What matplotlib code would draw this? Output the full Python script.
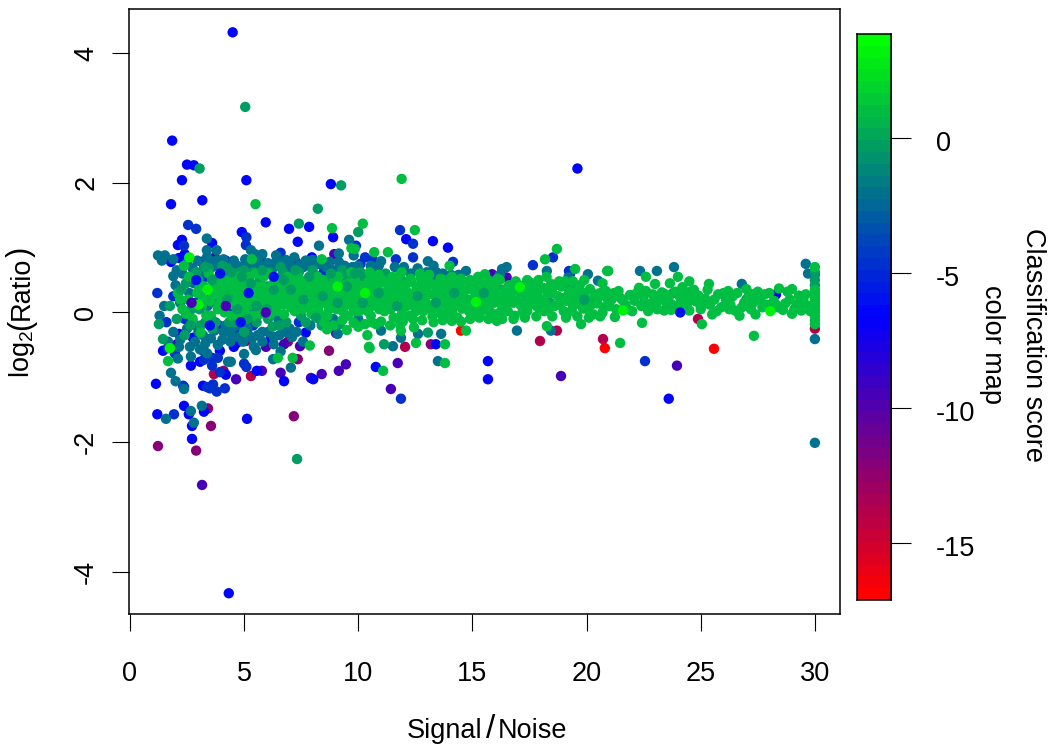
import matplotlib
matplotlib.use("Agg")
import matplotlib.pyplot as plt
import numpy as np
from matplotlib.colors import LinearSegmentedColormap
from matplotlib.transforms import ScaledTranslation

plt.rcParams['font.family'] = ['Liberation Sans', 'DejaVu Sans']
plt.rcParams['mathtext.fontset'] = 'custom'
plt.rcParams['mathtext.rm'] = 'Liberation Sans'
plt.rcParams['mathtext.default'] = 'regular'

x_ticks = [0, 5, 10, 15, 20, 25, 30]
y_ticks = [-4, -2, 0, 2, 4]
cbar_ticks = [0, -5, -10, -15]
score_min, score_max = -17.1, 3.87

# (signal/noise, log2 ratio), grouped by colour-bar score
red = [(25.58, -.56), (20.8, -.55), (14.5, -.28)]
crimson = [(17.96, -.44), (18.7, -.28), (24.88, -.1), (30.0, -.25), (12.05, -.53), (20.72, -.41), (3.68, -.95), (5.3, -.98), (11.2, .05)]
magenta = [(3.42, -1.48), (3.55, -1.75), (1.23, -2.06), (2.9, -2.13), (8.72, -.59), (7.35, -.72), (5.08, -.44), (6.92, -.45), (13.18, -.49), (7.18, -1.6), (4.1, -.9)]
purple = [(3.16, -2.66), (4.65, -1.03), (8.4, -.95), (9.15, -.9), (9.46, -.8), (18.88, -.98), (15.86, .59), (8.95, .9), (2.06, -.49), (11.43, -1.18), (11.73, -.78), (23.96, -.82), (5.96, -.53), (6.75, -.49), (7.45, -.52), (9.03, -.32), (3.72, .85), (16.5, .54), (4.5, -.1), (5.78, -.9), (6.6, -.93), (7.93, -1.01)]
blue = [(4.5, 4.32), (1.85, 2.65), (2.5, 2.28), (2.8, 2.27), (2.28, 2.04), (5.1, 2.04), (8.8, 1.98), (19.6, 2.22), (1.8, 1.67), (3.17, 1.73),
        (5.95, 1.39), (6.97, 1.29), (7.85, 1.32), (8.9, 1.16), (7.35, 1.09), (2.28, 1.12), (2.1, 1.04), (3.6, 1.07), (2.15, .84), (2.4, .9), (3.15, .78), (1.8, .78),
        (6.97, .67), (7.97, .85), (13.27, 1.1), (13.93, 1.0), (12.1, 1.13), (28.3, .28), (4.33, -4.33), (2.72, -1.95), (2.72, -1.75), (5.13, -1.64), (1.2, -1.57),
        (2.37, -1.44), (1.14, -1.1), (15.68, -.75), (15.68, -1.03), (23.6, -1.33), (10.77, -.84), (7.05, .2), (6.1, .15), (3.4, .3), (4.9, 1.24), (2.15, -.33),
        (1.45, -.59), (2.67, -.82), (3.07, -.76), (4.2, -.96), (5.56, -.9), (6.75, -1.06), (8.03, -1.03), (4.55, -.53), (4.68, -.47), (7.7, -.31), (6.17, -.4), (4.3, .05),
        (2.76, -.39), (3.94, -.59), (13.4, -.49), (3.2, -1.13), (2.58, -1.57), (3.24, -1.53), (2.37, -1.15)]
navy = [(2.55, 1.35), (2.9, 1.29), (5.1, 1.16), (5.08, 1.04), (2.37, 1.03), (4.2, .8), (5.74, .85), (6.6, .92), (7.27, .78), (8.5, .64), (9.9, 1.03), (10.3, .85), (10.1, .75), (11.83, 1.27), (12.4, 1.06), (10.63, .81), (11.65, .82), (12.4, .85), (14.15, .78), (17.65, .73), (18.53, .85), (19.23, .64), (19.27, .59),
        (1.66, -.55), (1.97, -.63), (3.24, -.6), (3.24, -.73), (3.6, -.7), (3.6, -.82), (3.85, -.7), (5, -.79), (5.1, -.84), (2.33, -1.13), (3.94, -.92), (3.38, -1.15), (3.64, -1.11), (3.8, -1.22), (4.16, -1.17), (3.5, -1.17), (1.93, -1.57), (22.56, -.75), (11.87, -1.33), (1.2, .3), (1.9, .25), (2.4, -.1), (2.9, .15), (3.3, .55), (3.9, -.2), (4.6, -.3), (5.4, -.2), (6.5, .5), (7.4, -.15), (1.6, -.15), (8.3, -.1), (9.6, .5)]
teal = [(3.37, 1.14), (3.8, .96), (1.23, .88), (1.53, .88), (1.4, .8), (1.9, .82), (3.37, .96), (3.37, .85), (5.3, .96), (5.48, .9), (6.4, .88), (6.4, .78), (6.83, .81), (8.28, 1.03), (8.0, .81), (9.15, .78), (9.15, .91), (9.6, 1.12), (9.8, .88),
        (11.0, .79), (13.05, .79), (13.3, .72), (13.43, .62), (14.72, .64), (14.06, .58), (16.5, .7), (16.3, .67), (16.2, .58), (18.26, .64), (20.06, .59), (19.2, .54), (20.5, .49), (22.34, .64), (23.08, .64), (23.83, .7), (26.8, .44), (29.6, .75), (29.7, .6), (30.0, .58), (30.0, -2.01),
        (1.67, -.45), (2.15, -.53), (2.1, -.71), (2.63, -.53), (2.67, -.68), (3.07, -.57), (3.38, -.63), (4.3, -.76), (4.42, -.76), (5.0, -.64), (1.8, -.93), (2.0, -1.06), (2.37, -1.18), (1.58, -1.64), (2.67, -1.52), (2.8, -1.7), (3.15, -1.44), (7.05, -.85), (6.27, -.72), (5.52, -.58), (7.58, -.45), (6.6, -.6), (6.3, -.49), (5.43, -.53), (9.1, -.33), (16.95, -.28), (18.44, -.28), (13.49, -.75), (13.63, -.33), (11.87, -.39), (11.0, -.28), (11.52, -.52), (12.62, -.33), (30.0, -.41), (1.9, .56),
        (1.5, .1), (2.0, .42), (2.3, .6), (2.6, .3), (2.9, -.2), (3.1, .62), (3.4, .1), (3.6, .7), (3.9, .4), (4.1, -.3), (4.2, .6), (4.5, .2), (4.7, .72), (4.9, -.2), (5.1, .5), (5.3, .0), (5.5, .7), (5.8, -.3), (6.0, .4), (6.2, .65), (6.5, -.1), (6.8, .6), (7.0, -.25), (7.3, .45), (7.6, .7), (7.9, -.2), (8.2, .55), (8.6, .7), (8.9, -.1), (9.2, .5), (9.6, .65), (10, -.1), (10.4, .55), (10.8, .65), (11.3, .45), (11.8, -.1), (12.3, .6), (12.9, .5), (13.4, .55), (1.3, -.05), (1.9, -.3), (2.2, .15), (2.5, .75), (2.8, .45), (3.2, -.35), (3.5, .35), (3.8, .8), (4.0, .1), (4.4, -.45), (4.8, .35), (5.2, -.35), (5.6, .2), (5.9, .72), (6.3, .05), (6.7, .35), (7.1, .7), (7.5, .1), (7.8, .4), (8.1, .15), (8.4, .75), (8.8, .3), (9.4, .2), (9.9, .4), (10.6, .15), (11.1, .25), (12, .3)]
fringe_teal = [(2.2, -.42), (2.5, -.25), (2.85, -.45), (3.0, -.3), (3.3, -.48), (3.55, -.4), (3.7, -.28), (3.85, -.5), (4.05, -.42), (4.2, -.2), (4.4, -.32), (4.55, -.22), (4.75, -.38), (4.95, -.45), (5.15, -.25), (5.35, -.4), (5.6, -.35), (5.8, -.45), (6.05, -.3), (6.3, -.38), (6.55, -.35), (6.8, -.3), (7.1, -.38), (7.3, -.3), (2.05, .65), (2.75, .68), (2.95, .8), (3.25, .72), (3.5, .8), (3.9, .72), (4.1, .82), (4.35, .7), (4.55, .8), (4.85, .7), (5.05, .82), (5.25, .72), (5.6, .82), (5.8, .9), (6.05, .76), (6.3, .7), (6.6, .78), (6.95, .74), (7.2, .85), (7.45, .72), (7.7, .8), (7.95, .7), (8.25, .75), (8.75, .78), (8.95, .65), (9.4, .72), (9.75, .7), (10.0, .72), (10.55, .72), (10.9, .72), (11.6, .7), (12.0, .7), (12.6, .68), (13.0, .62), (13.7, .6), (14.4, .58)]
sea = [(5.05, 3.17), (9.25, 1.96), (8.23, 1.6), (7.4, 1.37), (7.32, -2.26), (10.0, 1.24), (3.05, 2.22), (1.45, -.41), (13.05, -.31), (11.13, -.49), (1.27, -.18), (1.75, .1), (2.05, -.1), (2.45, .45), (2.7, .05), (3.0, .5), (3.3, -.15), (3.7, .15), (4.0, .55), (4.3, .3), (4.6, -.15), (5.0, .65), (5.2, .15), (5.7, .5), (6.05, -.1), (6.4, .25), (6.6, .7), (6.9, .15), (7.2, .55), (7.5, -.05), (7.7, .3), (8.0, .65), (8.3, .2), (8.7, .5), (9.0, .2), (9.3, .65), (9.7, .25), (10.2, .55), (10.7, .35), (11.4, .3), (11.9, .5), (12.4, .2), (12.9, .3), (13.7, .25), (14.4, .3), (15.1, .2), (16.2, .35), (17.3, .25), (18.4, .15), (19.3, .4), (20.3, .2), (22.5, .14), (23.8, .3), (25.0, .1), (27, .2), (30, .62), (30, .5), (30, .42),
       (2.4, -.35), (3.1, -.2), (3.6, -.25), (4.35, -.15), (5.0, -.3), (5.55, -.15), (6.25, -.22), (6.85, -.15), (7.7, -.15), (8.4, -.2), (9.2, -.18), (2.9, .62), (3.45, .68), (4.25, .68), (4.8, .62), (5.4, .62), (6.1, .62), (6.7, .62), (7.4, .62), (8.1, .58), (8.9, .58), (9.45, .58), (10.1, .62), (11.2, .6)]
green = [(10.2, 1.37), (8.85, 1.3), (5.5, 1.67), (8.4, .82), (9.7, .99), (9.85, .98), (5.34, .82), (2.37, .72), (12.48, 1.27), (10.7, .93), (11.3, .93), (14.0, .72), (15.55, .59), (18.18, .82), (18.7, .98), (19.5, .67), (20.9, .64), (20.95, .64), (22.6, .55), (24.0, .55), (24.5, .48), (23.65, .45), (25.36, .44), (30.0, .7), (11.9, 2.06), (29.0, .36), (28.43, .37),
         (1.67, -.75), (3.1, -.31), (7.13, -.7), (6.48, -.7), (7.88, -.51), (10.0, -.22), (10.4, -.35), (9.5, -.27), (8.63, -.26), (10.47, -.53), (14.72, -.28), (16.07, -.13), (18.26, -.21), (19.76, -.18), (13.8, -.78), (13.8, -.49), (12.53, -.47), (12.44, -.23), (11.87, -.28), (11.83, -.19), (10.77, -.18), (10.5, -.55), (11.09, -.9), (21.24, -.07), (22.43, -.16), (25.05, -.18), (27.33, -.36), (21.47, -.47),
         (2.1, .3), (2.3, .05), (2.6, .55), (2.75, -.1), (2.95, .3), (3.15, .1), (3.25, .4), (3.45, .6), (3.55, -.05), (3.7, .4), (3.85, .05), (3.95, .25), (4.1, .45), (4.2, .1), (4.35, .5), (4.45, -.05), (4.55, .35), (4.65, .15), (4.75, .55), (4.85, .05), (4.95, .3), (5.05, .15), (5.15, .35), (5.25, .55), (5.35, -.05), (5.45, .25), (5.55, .4), (5.65, .05), (5.75, .3), (5.85, .55), (5.95, .15), (6.05, .35), (6.15, -.02), (6.25, .25), (6.35, .5), (6.45, .1), (6.55, .35), (6.65, .2), (6.75, -.03), (6.85, .45), (6.95, .28), (7.05, .08), (7.15, .35), (7.25, .18), (7.35, .55), (7.45, .3), (7.55, .05), (7.65, .45), (7.75, .15), (7.85, .35), (7.95, -.02), (8.05, .25), (8.15, .45), (8.25, .08), (8.35, .32), (8.45, .5), (8.55, .15), (8.65, -.05), (8.75, .38), (8.85, .22), (8.95, .52), (9.05, .05), (9.15, .3), (9.25, .12), (9.35, .42), (9.45, .25), (9.55, -.05), (9.65, .35), (9.75, .1), (9.85, .5), (9.95, .22), (10.05, .02), (10.15, .38), (10.25, .15), (10.35, .28), (10.45, .48), (10.55, -.05), (10.65, .3), (10.75, .1), (10.85, .4), (10.95, .2), (11.05, .5), (11.15, .02), (11.25, .32), (11.35, .12), (11.45, .42), (11.55, -.08), (11.65, .25), (11.75, .55), (11.85, .08), (11.95, .35), (12.05, .18), (12.15, .45), (12.25, -.05), (12.35, .28), (12.45, .1), (12.55, .4), (12.65, .2), (12.75, .52), (12.85, .02), (12.95, .35), (13.05, .12), (13.15, .45), (13.25, -.06), (13.35, .28), (13.45, .08), (13.55, .4), (13.65, .18), (13.75, .5), (13.85, -.02), (13.95, .3), (14.05, .1), (14.15, .42), (14.25, .2), (14.35, -.08), (14.45, .34), (14.55, .06), (14.65, .46), (14.75, .18), (14.85, .02), (14.95, .36), (15.05, .1), (15.15, .28), (15.3, .46), (15.4, .02), (15.5, .2), (15.6, .38), (15.7, .1), (15.8, .28), (15.9, -.02), (16, .44), (16.1, .16), (16.25, .02), (16.4, .3), (16.5, .12), (16.6, .42), (16.7, .22), (16.85, -.05), (17, .33), (17.1, .12), (17.25, .42), (17.4, .02), (17.5, .22), (17.65, .33), (17.8, .1), (17.9, .4), (18.0, .2), (18.15, .02), (18.3, .3), (18.45, .44), (18.6, .1), (18.75, .25), (18.9, .4), (19.0, .02), (19.1, .18), (19.25, .33), (19.4, .1), (19.55, .26), (19.7, .42), (19.85, .06), (20, .2), (20.15, .36), (20.3, -.03), (20.45, .14), (20.6, .3), (20.75, .08), (20.9, .22),
         (21.0, .1), (21.2, .3), (21.3, .05), (21.5, .22), (21.7, .12), (21.9, .27), (22.0, .02), (22.1, .18), (22.3, .38), (22.4, .1), (22.5, .25), (22.6, .33), (22.7, .02), (22.8, .14), (22.9, .28), (23.0, .44), (23.1, .05), (23.2, .2), (23.3, .31), (23.4, .03), (23.5, .13), (23.6, .24), (23.7, .04), (23.9, .32), (24.0, .1), (24.1, .23), (24.2, .39), (24.3, .28), (24.4, .13), (24.5, .03), (24.6, .2), (24.7, .35), (24.8, .17), (24.9, .26), (25.0, .05), (25.1, .14), (25.2, .21), (25.3, .35), (25.5, -.03), (25.7, .02), (25.76, .28), (26.0, .3), (26.1, .2), (26.2, .33), (26.3, .12), (26.4, .25), (26.5, .03), (26.6, .3), (26.7, -.05), (26.9, .15), (27.0, .36), (27.1, .25), (27.2, .05), (27.3, .15), (27.4, -.03), (27.5, .32), (27.6, .2), (27.7, .08), (27.8, .28), (27.9, .12), (28.0, .3), (28.1, .05), (28.2, .18), (28.4, .08), (28.6, .04), (28.7, .14), (28.9, .2), (29.0, -.02), (29.2, .12), (29.3, .26), (29.4, .03), (29.5, .18), (29.6, .28), (29.7, .1), (29.8, .02),
         (30, -.18), (30, -.12), (30, -.06), (30, 0), (30, .05), (30, .1), (30, .15), (30, .2), (30, .25), (30, .3), (30, .35)]
green_fill = [(2.2, .2), (2.45, -.02), (2.55, .2), (2.85, .12), (3.05, .38), (3.2, .22), (3.35, -.05), (3.5, .18), (3.62, .3), (3.8, .52), (3.92, .12), (4.05, .32), (4.15, .0), (4.28, .22), (4.4, .38), (4.5, .12), (4.62, .45), (4.72, .25), (4.82, -.08), (4.92, .42), (5.02, .02), (5.12, .25), (5.22, .45), (5.32, .12), (5.42, .32), (5.52, .6), (5.62, .15), (5.72, -.02), (5.82, .4), (5.92, .25), (6.02, .6), (6.12, .1), (6.22, .42), (6.32, .2), (6.42, .02), (6.52, .22), (6.62, .48), (6.72, .12), (6.82, .3), (6.92, .55), (7.02, .18), (7.12, .45), (7.22, .02), (7.32, .25), (7.42, .42), (7.52, .15), (7.62, .28), (7.72, .5), (7.82, .08), (7.92, .42), (8.02, .15), (8.12, .32), (8.22, .55), (8.32, -.02), (8.42, .18), (8.52, .38), (8.62, .25), (8.72, .05), (8.82, .42), (8.92, .12), (9.02, .32), (9.12, .55), (9.22, .22), (9.32, .02), (9.42, .35), (9.52, .12), (9.62, .45), (9.72, .2), (9.82, .02), (9.92, .32), (10.02, .42), (10.12, .1), (10.22, .25), (10.32, .42), (10.42, .02), (10.52, .18), (10.62, .42), (10.72, .22), (10.82, .52), (10.92, .05), (11.02, .3), (11.12, .18), (11.22, .45), (11.32, .22), (11.42, .05), (11.52, .35), (11.62, .12), (11.72, .42), (11.82, .25), (11.92, -.02), (12.02, .42), (12.12, .1), (12.22, .3), (12.32, .48), (12.42, .2), (12.52, .02), (12.62, .32), (12.72, .1), (12.82, .42), (12.92, .2), (13.02, .5), (13.12, .28), (13.22, .05), (13.32, .42), (13.42, .18), (13.52, .3), (13.62, -.02), (13.72, .38), (13.82, .12), (13.92, .45), (14.02, .22), (14.12, .02), (14.22, .35), (14.32, .12), (14.42, .45), (14.52, .22), (14.62, .3), (14.72, .08), (14.82, .42), (14.92, .2), (15.02, .0), (15.12, .38), (15.22, .12), (15.35, .3), (15.45, .1), (15.55, .42), (15.65, .25), (15.75, .02), (15.85, .4), (15.95, .15), (16.05, .3), (16.2, .5), (16.3, .18), (16.45, .36), (16.55, .02), (16.65, .28), (16.8, .15), (16.9, .38), (17.05, .2), (17.2, .02), (17.35, .32), (17.45, .12), (17.6, .45), (17.7, .2), (17.85, .28), (17.95, .05), (18.1, .38), (18.2, .15), (18.35, .05), (18.5, .3), (18.65, .42), (18.8, .12), (18.95, .22), (19.05, .48), (19.2, .28), (19.35, .02), (19.5, .18), (19.65, .35), (19.75, .12), (19.9, .3), (20.05, .05), (20.2, .12), (20.35, .28), (20.5, .22), (20.7, .0), (20.85, .33), (21.1, .2), (21.4, .33), (21.6, .18), (21.8, .05), (22.2, .3), (23.05, .15), (23.45, .28), (23.75, .12), (24.15, .12), (24.55, .32), (24.95, .15), (25.4, .12), (25.6, .2), (25.9, .08), (26.25, .05), (26.8, .08), (27.25, .28), (28.3, .12), (28.8, .32), (29.1, .05), (29.55, .06)]
green_edge = [(8.5, -.15), (8.9, -.2), (9.3, -.12), (9.8, -.16), (10.3, -.18), (10.6, -.15), (11.0, -.14), (11.4, -.2), (11.95, -.14), (12.4, -.1), (12.8, -.12), (13.3, -.15), (13.7, -.12), (14.1, -.13), (14.5, -.14), (14.9, -.1), (15.3, -.08), (15.7, -.1), (16.3, -.1), (16.8, -.1), (17.3, -.08), (17.8, -.06), (18.5, -.06), (19.1, -.08), (19.6, -.06), (20.1, -.08), (20.6, -.06), (9.7, .62), (10.5, .62), (10.9, .58), (11.5, .55), (11.9, .62), (12.3, .52), (12.7, .6), (13.1, .58), (13.6, .52), (14.1, .55), (14.5, .52), (14.9, .5), (15.25, .55), (15.7, .5), (16.1, .52), (16.9, .48), (17.4, .5), (17.9, .5), (18.25, .55), (18.8, .48), (19.4, .48), (19.9, .5), (20.7, .45)]
sea_top = [(2.25, .35), (2.65, -.2), (3.05, .05), (3.3, .7), (3.6, .5), (3.75, -.15), (4.05, .72), (4.25, .2), (4.45, .62), (4.7, .05), (4.9, .55), (5.15, -.1), (5.3, .45), (5.55, .1), (5.8, .65), (6.0, .05), (6.3, .35), (6.55, -.2), (6.75, .5), (7.05, .35), (7.25, .65), (7.6, .2), (7.85, .55), (8.15, -.08), (8.45, .25), (8.8, .6), (9.1, .15), (9.5, .4), (9.85, .6), (10.2, .15), (10.9, .3), (11.7, .1), (12.6, .25), (13.4, .15), (14.2, .3), (15.5, .3), (19.9, .2)]
bright = [(17.08, .39), (15.16, .16), (1.75, -.55), (3.4, .35), (2.6, .85), (28.05, .02), (21.6, .03), (10.3, .3), (3.0, .12), (9.1, .4)]
top_blue = [(3.5, -.2), (5.2, .3), (2.9, .5), (4.85, -.15), (6.3, .55), (24.1, .0), (3.95, .6)]
top_purple = [(2.7, .15), (4.2, .1), (5.95, .0)]

groups = [(red, -16.9), (crimson, -14), (magenta, -12), (purple, -9.5), (blue, -6.2), (navy, -4.5),
          (teal, -2.2), (fringe_teal, -2.0), (sea, -0.4), (green, 1.2), (green_fill, 1.2), (green_edge, 1.2),
          (sea_top, -0.2), (bright, 3.2), (top_blue, -6.0), (top_purple, -9.5)]

cmap = LinearSegmentedColormap.from_list('score', ['#ff0000', '#0000ff', '#00ff00'], N=48)

fig = plt.figure(figsize=(10.5, 7.53), dpi=100)
W, H = 1050.0, 753.0
FS = 19.5

def box(l, t, r, b):
    return [l / W, 1 - b / H, (r - l) / W, (b - t) / H]

ax = fig.add_axes(box(129, 9, 840, 614))
for pts, score in groups:
    xs = [p[0] for p in pts]
    ys = [p[1] for p in pts]
    ax.scatter(xs, ys, c=[score] * len(pts), cmap=cmap, vmin=score_min, vmax=score_max,
               s=56, linewidths=0, zorder=3)
ax.set_xlim(-0.04, 31.1)
ax.set_ylim(-4.65, 4.68)
ax.set_xticks(x_ticks)
ax.set_xticklabels([str(v) for v in x_ticks], fontsize=FS)
ax.set_yticks(y_ticks)
ax.set_yticklabels([str(v) for v in y_ticks], fontsize=FS, rotation=90, va='center')
ax.tick_params(axis='x', length=12.5, width=0.8, pad=21)
ax.tick_params(axis='y', length=12.5, width=0.8, pad=9)
for s in ax.spines.values():
    s.set_linewidth(1.1)

cax = fig.add_axes(box(857, 34, 891, 600))
grad = np.linspace(score_min, score_max, 48).reshape(-1, 1)
cax.imshow(grad, origin='lower', aspect='auto', cmap=cmap, vmin=score_min, vmax=score_max,
           extent=[0, 1, score_min, score_max], interpolation='nearest')
cax.set_xticks([])
cax.yaxis.tick_right()
cax.set_yticks(cbar_ticks)
cax.set_yticklabels([str(v) for v in cbar_ticks], fontsize=FS)
cax.tick_params(axis='y', length=14.4, width=0.8, pad=18)
for lab in cax.get_yticklabels():
    lab.set_transform(lab.get_transform() + ScaledTranslation(0, -3 / 100, fig.dpi_scale_trans))
for s in cax.spines.values():
    s.set_linewidth(1.1)

fig.text(482 / W, 1 - 731 / H, 'Signal', fontsize=FS, ha='right', va='center')
fig.text(490.5 / W, 1 - 730 / H, '/', fontsize=24, ha='center', va='center')
fig.text(498 / W, 1 - 731 / H, 'Noise', fontsize=FS, ha='left', va='center')
fig.text(22 / W, 1 - 378 / H, r'$log_2$', fontsize=FS, rotation=90, ha='center', va='bottom')
fig.text(21 / W, 1 - 324.5 / H, '(', fontsize=22, rotation=90, ha='center', va='center')
fig.text(22 / W, 1 - 288 / H, 'Ratio', fontsize=FS, rotation=90, ha='center', va='center')
fig.text(21 / W, 1 - 252 / H, ')', fontsize=22, rotation=90, ha='center', va='center')
fig.text(1033 / W, 1 - 345 / H, 'Classification score', fontsize=FS, rotation=270, ha='center', va='center')
fig.text(992 / W, 1 - 344 / H, 'color map', fontsize=FS, rotation=270, ha='center', va='center')

fig.savefig('out.png', dpi=100)
